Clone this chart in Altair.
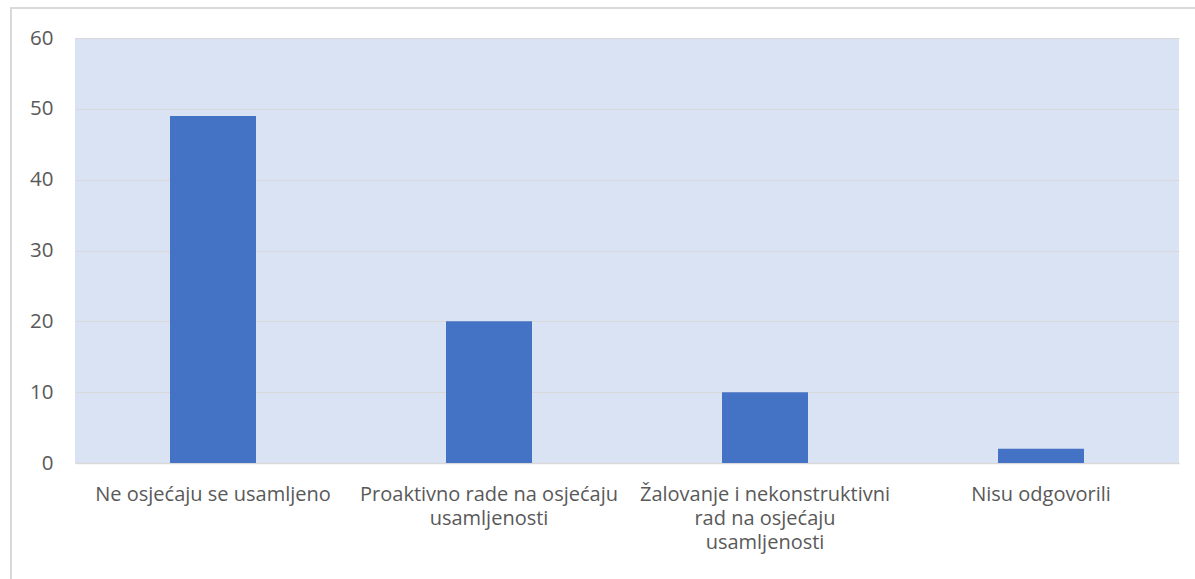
import altair as alt
import pandas as pd

categories = [
    "Ne osjećaju se usamljeno",
    "Proaktivno rade na osjećaju\nusamljenosti",
    "Žalovanje i nekonstruktivni\nrad na osjećaju\nusamljenosti",
    "Nisu odgovorili",
]
values = [49, 20, 10, 2]
y_ticks = [0, 10, 20, 30, 40, 50, 60]

df = pd.DataFrame({"cat": categories, "val": values})

W, H = 1104, 425

bars = alt.Chart(df).mark_bar(size=86, color="#4472C4").encode(
    x=alt.X(
        "cat:N",
        sort=categories,
        scale=alt.Scale(paddingInner=0, paddingOuter=0),
        axis=alt.Axis(
            title=None,
            labelAngle=0,
            labelExpr="split(datum.label, '\\n')",
            labelFont="Open Sans",
            labelFontSize=20,
            labelColor="#595959",
            labelLineHeight=24,
            labelPadding=21,
            labelBaseline="top",
            ticks=False,
            domain=True,
            domainColor="#D9D9D9",
            domainWidth=1.5,
            labelLimit=400,
        ),
    ),
    y=alt.Y(
        "val:Q",
        scale=alt.Scale(domain=[0, 60], nice=False),
        axis=alt.Axis(
            title=None,
            values=y_ticks,
            labelFont="Open Sans",
            labelFontSize=20.5,
            labelColor="#595959",
            labelPadding=22,
            ticks=False,
            domain=False,
            grid=True,
            gridColor="#D9D9D9",
            gridWidth=1,
        ),
    ),
)

frame = alt.Chart(df).mark_rect(fill=None, stroke="#D9D9D9", strokeWidth=1.5).encode(
    x=alt.value(-64), x2=alt.value(W + 40), y=alt.value(-30), y2=alt.value(H + 200)
)

chart = alt.layer(frame, bars).properties(
    width=W,
    height=H,
    autosize=alt.AutoSizeParams(type="none"),
    padding={"left": 75, "top": 38, "right": 16, "bottom": 116},
    background="white",
).configure_view(fill="#DAE3F3", stroke=None)

chart.save("out.html", embed_options={"renderer": "svg", "actions": False})
